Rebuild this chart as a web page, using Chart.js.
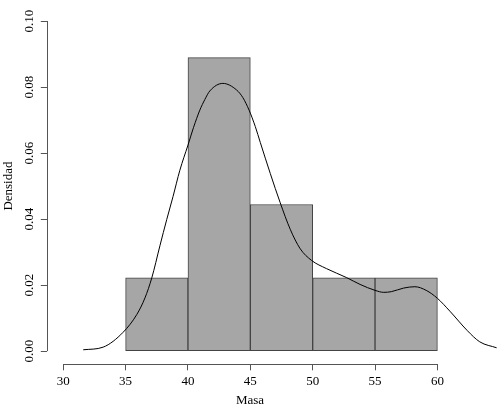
<!DOCTYPE html>
<html>
<head>
<meta charset="utf-8">
<script src="https://cdn.jsdelivr.net/npm/chart.js@4/dist/chart.umd.min.js"></script>
<style>
  html, body { margin: 0; padding: 0; background: #fff; }
  #wrap { width: 500px; height: 409px; }
</style>
</head>
<body>
<div id="wrap"><canvas id="hist"></canvas></div>
<script>
// histogram bins (centre of each 5-unit class) and densities
const binCenters = [37.5, 42.5, 47.5, 52.5, 57.5];
const binDensity = [0.0222, 0.0889, 0.0444, 0.0222, 0.0222];

// kernel density curve
const curveX = [31.6, 33.2, 34.8, 35.9, 36.55, 37.1, 37.75, 38.3, 38.8, 39.35, 40.0, 40.45, 40.95, 41.35, 41.75, 42.8,
                43.9, 44.4, 44.9, 45.4, 45.8, 46.6, 47.4, 48.2, 49.0, 49.9, 51.1, 52.7, 53.8, 55.0,
                55.7, 56.3, 57.3, 58.2, 59.1, 60.0, 61.0, 62.4, 63.4, 64.75];
const curveY = [0.0004, 0.0012, 0.0057, 0.0111, 0.0161, 0.0222, 0.0319, 0.0399, 0.0468, 0.0548, 0.0624, 0.0678, 0.0730, 0.0762, 0.0788, 0.0811,
                0.0791, 0.0768, 0.0730, 0.0680, 0.0632, 0.0538, 0.0449, 0.0369, 0.0310, 0.0275, 0.0250, 0.0223, 0.0202, 0.0184,
                0.0178, 0.0180, 0.0191, 0.0195, 0.0184, 0.0160, 0.0121, 0.0062, 0.0028, 0.0010];

const xTicks = [30, 35, 40, 45, 50, 55, 60];
const yTicks = [0, 0.02, 0.04, 0.06, 0.08, 0.10];

Chart.defaults.font.family = "'Liberation Serif', 'DejaVu Serif', serif";
Chart.defaults.font.size = 13;
Chart.defaults.color = '#000';

// R draws the axis line only between the first and last tick
const rAxes = {
  id: 'rAxes',
  afterDraw(chart) {
    const {ctx, scales: {x, y}} = chart;
    ctx.save();
    ctx.strokeStyle = '#555';
    ctx.lineWidth = 1;
    ctx.beginPath();
    const yb = Math.round(x.top) + 0.5;
    ctx.moveTo(x.getPixelForValue(xTicks[0]), yb);
    ctx.lineTo(x.getPixelForValue(xTicks[xTicks.length - 1]), yb);
    const xl = Math.round(y.right) + 0.5;
    ctx.moveTo(xl, y.getPixelForValue(yTicks[0]));
    ctx.lineTo(xl, y.getPixelForValue(yTicks[yTicks.length - 1]));
    ctx.stroke();
    ctx.restore();
  }
};

new Chart(document.getElementById('hist'), {
  type: 'bar',
  data: {
    datasets: [{
      type: 'line',
      data: curveX.map((v, i) => ({x: v, y: curveY[i]})),
      borderColor: '#000',
      borderWidth: 1,
      pointRadius: 0,
      cubicInterpolationMode: 'monotone',
      fill: false
    }, {
      type: 'bar',
      data: binCenters.map((v, i) => ({x: v, y: binDensity[i]})),
      backgroundColor: '#a6a6a6',
      borderColor: '#444',
      borderWidth: 1,
      borderSkipped: false,
      barPercentage: 1,
      categoryPercentage: 1
    }]
  },
  options: {
    responsive: true,
    maintainAspectRatio: false,
    animation: false,
    layout: { padding: { top: 5, left: 0, right: 0, bottom: 0 } },
    plugins: {
      legend: { display: false },
      tooltip: { enabled: false },
      title: {
        display: true,
        position: 'bottom',
        text: 'Masa',
        font: { size: 13, weight: 'normal' },
        padding: { top: 1, bottom: 0.5 }
      }
    },
    scales: {
      x: {
        type: 'linear',
        offset: false,
        min: 28.72,
        max: 65.02,
        afterBuildTicks: s => { s.ticks = xTicks.map(v => ({value: v})); },
        grid: { drawOnChartArea: false, drawTicks: true, tickLength: 6, color: '#555', offset: false },
        border: { display: false },
        ticks: { padding: 3, maxRotation: 0, autoSkip: false, callback: v => String(v) }
      },
      y: {
        min: -0.004,
        max: 0.104,
        afterBuildTicks: s => { s.ticks = yTicks.map(v => ({value: v})); },
        afterFit: s => { s.width = 47.3; },
        grid: { drawOnChartArea: false, drawTicks: true, tickLength: 6.5, color: '#555' },
        border: { display: false },
        ticks: { minRotation: 90, maxRotation: 90, crossAlign: 'center', padding: 0, autoSkip: false,
                 callback: v => v.toFixed(2) },
        title: { display: true, text: 'Densidad', font: { size: 13 }, padding: { top: 1, bottom: 0 } }
      }
    }
  },
  plugins: [rAxes]
});
</script>
</body>
</html>
